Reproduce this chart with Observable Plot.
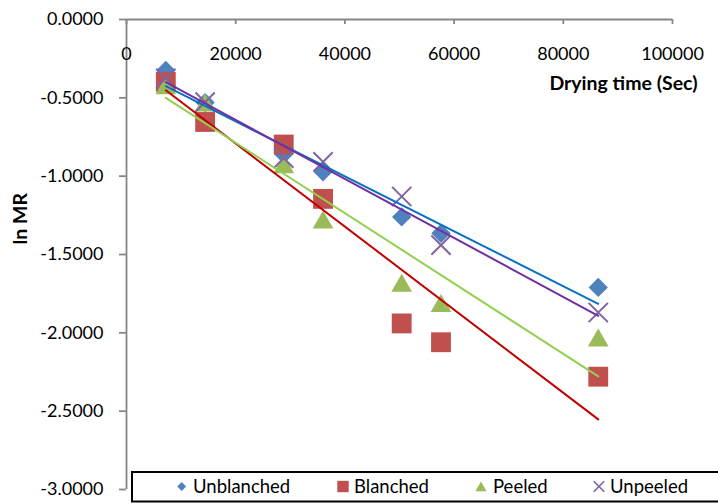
<!DOCTYPE html>
<html><head><meta charset="utf-8">
<script src="https://cdn.jsdelivr.net/npm/d3@7"></script>
<script src="https://cdn.jsdelivr.net/npm/@observablehq/plot@0.6"></script>
<style>
html,body{margin:0;padding:0;background:#fff;}
#wrap{position:relative;width:718px;height:503px;overflow:hidden;font-family:Lato,sans-serif;}
#legend{position:absolute;left:0;top:0;overflow:visible;}
</style></head><body><div id="wrap"></div>
<script>
// Drying time in seconds
const times = [7200, 14400, 28800, 36000, 50400, 57600, 86400];
// ln MR values per treatment
const unblanched = [-0.325, -0.53, -0.86, -0.972, -1.26, -1.365, -1.71];
const blanched   = [-0.398, -0.654, -0.798, -1.145, -1.94, -2.06, -2.28];
const peeled     = [-0.42, -0.53, -0.924, -1.277, -1.68, -1.81, -2.03];
const unpeeled   = [-0.376, -0.527, -0.885, -0.909, -1.13, -1.44, -1.87];

const seriesNames = ["Unblanched", "Blanched", "Peeled", "Unpeeled"];
const seriesValues = [unblanched, blanched, peeled, unpeeled];
const markerColors = ["#4F81BD", "#C0504D", "#9BBB59", "#8064A2"];
const lineColors = ["#0A70C4", "#C00000", "#92D050", "#7030A0"];
const xTicks = [0, 20000, 40000, 60000, 80000, 100000];
const yTicks = [0, -0.5, -1, -1.5, -2, -2.5, -3];
const xTitle = "Drying time (Sec)";
const yTitle = "ln MR";

const rows = seriesValues.map((vals, si) =>
  times.map((t, i) => ({series: seriesNames[si], time: t, lnMR: vals[i]})));

const axisGrey = "#868686";
const fontSize = 18;

const symbolOpts = [
  {symbol: "diamond2", r: 8.7, fill: markerColors[0]},
  {symbol: "square", r: 11.2, fill: markerColors[1]},
  {symbol: "triangle", r: 7.7, fill: markerColors[2], dy: 3},
  {symbol: "times", r: 8.8, stroke: markerColors[3], strokeWidth: 2, fill: "none"}
];

const chart = Plot.plot({
  width: 718,
  height: 503,
  marginLeft: 126,
  marginRight: 46,
  marginTop: 19,
  marginBottom: 14,
  style: {fontFamily: "Lato, sans-serif", fontSize: fontSize + "px", color: "#000", background: "#fff"},
  x: {domain: [0, 100000], axis: null},
  y: {domain: [-3, 0]},
  marks: [
    // axis lines
    Plot.ruleX([0], {stroke: axisGrey, strokeWidth: 1.8}),
    Plot.ruleY([0], {stroke: axisGrey, strokeWidth: 1.8}),
    // x ticks (pointing down from the top axis)
    Plot.ruleX(xTicks, {x: d => d, y1: () => 0, y2: () => 0, insetBottom: -5, stroke: axisGrey, strokeWidth: 1.8}),
    Plot.text(xTicks, {x: d => d, y: () => 0, dy: 35, text: d => String(d), fontSize}),
    // y axis
    Plot.axisY(yTicks, {anchor: "left", tickSize: 7, tickPadding: 16, tickFormat: d => d.toFixed(4),
      label: null, stroke: axisGrey, fill: "#000", strokeWidth: 1.8, fontSize}),
    // markers
    ...rows.map((r, si) => Plot.dot(r, {x: "time", y: "lnMR", ...symbolOpts[si]})),
    // trend lines
    ...rows.map((r, si) => Plot.linearRegressionY(r, {x: "time", y: "lnMR", stroke: lineColors[si], strokeWidth: 2, ci: 0})),
    // titles
    Plot.text([xTitle], {frameAnchor: "top-right", dx: 25, dy: 57, textAnchor: "end", fontWeight: "bold", fontSize: 19.5}),
    Plot.text([yTitle], {frameAnchor: "left", dx: -106, dy: -10, rotate: -90, fontWeight: "bold", fontSize: 19.5})
  ]
});
const wrap = document.getElementById("wrap");
wrap.appendChild(chart);

// Legend box overlay (sits over the bottom of the plot, as in the original)
const lg = d3.select(wrap).append("svg").attr("id", "legend").attr("width", 718).attr("height", 503);
lg.append("rect").attr("x", 132).attr("y", 472).attr("width", 620).attr("height", 29.5)
  .attr("fill", "#fff").attr("stroke", "#000").attr("stroke-width", 2);
const legendMarkX = [181.7, 343, 481, 599];
const legendTextX = [193, 354, 493, 610];
const legendY = 486.5;
const legendSymbols = [d3.symbolDiamond2, d3.symbolSquare, d3.symbolTriangle, d3.symbolTimes];
const legendSizes = [50, 130, 55, 75];
seriesNames.forEach((name, i) => {
  const p = lg.append("path")
    .attr("d", d3.symbol(legendSymbols[i], legendSizes[i])())
    .attr("transform", `translate(${legendMarkX[i]},${legendY + (i === 2 ? 1.5 : 0)})`);
  if (i === 3) p.attr("fill", "none").attr("stroke", markerColors[i]).attr("stroke-width", 1.6);
  else p.attr("fill", markerColors[i]);
  lg.append("text").attr("x", legendTextX[i]).attr("y", legendY).attr("dy", "0.35em")
    .attr("font-family", "Lato, sans-serif").attr("font-size", 18.5).attr("fill", "#000").text(name);
});
</script></body></html>
